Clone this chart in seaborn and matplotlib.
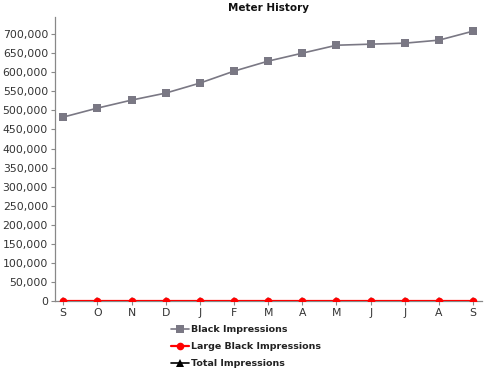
import matplotlib
matplotlib.use("Agg")
import matplotlib.pyplot as plt
import seaborn as sns
import numpy as np
import pandas as pd
from matplotlib.ticker import FuncFormatter, MultipleLocator

months = ["S", "O", "N", "D", "J", "F", "M", "A", "M", "J", "J", "A", "S"]
black_impressions = [482400, 506000, 527000, 545400, 571600, 603000, 629300,
                     650200, 671000, 673800, 676400, 684300, 708000]
large_black_impressions = [0] * 13
total_impressions = [0] * 13

sns.set_theme(style="white")
plt.rcParams['font.family'] = ['DejaVu Sans']

pos = np.arange(len(months))
df = pd.DataFrame({
    "pos": np.concatenate([pos, pos, pos]),
    "value": black_impressions + large_black_impressions + total_impressions,
    "series": (["Black Impressions"] * 13 + ["Large Black Impressions"] * 13
               + ["Total Impressions"] * 13),
})

fig = plt.figure(figsize=(4.9, 3.7), dpi=100)
ax = fig.add_axes([0.1122, 0.1865, 0.8715, 0.7675])

styles = {
    "Total Impressions": dict(color="black", marker="^", ms=5.5, lw=1.2, z=2),
    "Black Impressions": dict(color="#7a7884", marker="s", ms=5.5, lw=1.2, z=3),
    "Large Black Impressions": dict(color="#ff0000", marker="o", ms=5.5, lw=1.6, z=4),
}
for name in ["Total Impressions", "Black Impressions", "Large Black Impressions"]:
    st = styles[name]
    sub = df[df["series"] == name]
    sns.lineplot(data=sub, x="pos", y="value", ax=ax, color=st["color"],
                 marker=st["marker"], markersize=st["ms"], linewidth=st["lw"],
                 markeredgewidth=0, zorder=st["z"], label=name, legend=False)
for ln in ax.get_lines():
    ln.set_clip_on(True)

ax.set_xlim(-0.24, len(months) - 1 + 0.26)
ax.set_ylim(0, 745000)
ax.yaxis.set_major_locator(MultipleLocator(50000))
ax.yaxis.set_major_formatter(FuncFormatter(lambda v, p: f"{int(v):,}"))
ax.set_xticks(pos)
ax.set_xticklabels(months)
ax.set_xlabel("")
ax.set_ylabel("")
ax.tick_params(axis="both", labelsize=7.8, colors="#333333", length=3,
               width=0.8, direction="out", pad=2)
ax.tick_params(axis="both", color="#888888")
ax.tick_params(axis="y", left=True)
ax.tick_params(axis="x", bottom=True)
for side in ["top", "right"]:
    ax.spines[side].set_visible(False)
for side in ["left", "bottom"]:
    ax.spines[side].set_color("#888888")
    ax.spines[side].set_linewidth(0.9)

ax.set_title("Meter History", fontsize=7.5, fontweight="bold", pad=4, color="#111111")

handles, labels = ax.get_legend_handles_labels()
order = ["Black Impressions", "Large Black Impressions", "Total Impressions"]
hmap = dict(zip(labels, handles))
leg = fig.legend([hmap[o] for o in order], order, loc="upper center",
                 bbox_to_anchor=(0.502, 0.136), frameon=False, fontsize=6.8,
                 handlelength=1.9, handletextpad=0.3, labelspacing=0.85,
                 borderpad=0.1)
for t in leg.get_texts():
    t.set_fontweight("bold")
    t.set_color("#222222")

fig.savefig("out.png", dpi=100)
